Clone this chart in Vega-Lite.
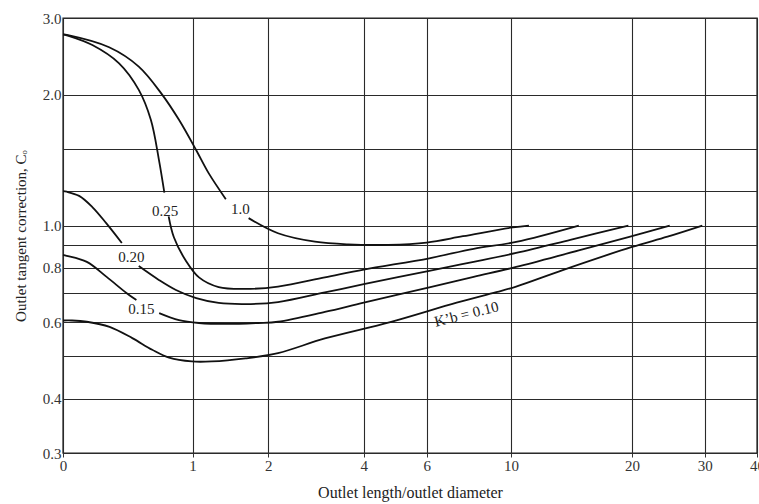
{
  "$schema": "https://vega.github.io/schema/vega-lite/v6.json",
  "width": 694,
  "height": 435,
  "autosize": "none",
  "padding": {"left": 63, "top": 18, "right": 2, "bottom": 51},
  "background": "white",
  "config": {
    "view": {"stroke": "#222", "strokeWidth": 1.4},
    "font": "Liberation Serif"
  },
  "datasets": {
    "curves": [
      {"Kb": "1.0", "seg": "1.0a", "x": 0, "C": 2.75},
      {"Kb": "1.0", "seg": "1.0a", "x": 0.027, "C": 2.74},
      {"Kb": "1.0", "seg": "1.0a", "x": 0.28, "C": 2.57},
      {"Kb": "1.0", "seg": "1.0a", "x": 0.5, "C": 2.32},
      {"Kb": "1.0", "seg": "1.0a", "x": 0.7, "C": 2.0},
      {"Kb": "1.0", "seg": "1.0a", "x": 0.86, "C": 1.75},
      {"Kb": "1.0", "seg": "1.0a", "x": 1.04, "C": 1.49},
      {"Kb": "1.0", "seg": "1.0a", "x": 1.18, "C": 1.32},
      {"Kb": "1.0", "seg": "1.0a", "x": 1.39, "C": 1.15},
      {"Kb": "1.0", "seg": "1.0b", "x": 1.7, "C": 1.04},
      {"Kb": "1.0", "seg": "1.0b", "x": 2.16, "C": 0.96},
      {"Kb": "1.0", "seg": "1.0b", "x": 2.85, "C": 0.918},
      {"Kb": "1.0", "seg": "1.0b", "x": 3.6, "C": 0.905},
      {"Kb": "1.0", "seg": "1.0b", "x": 4.7, "C": 0.903},
      {"Kb": "1.0", "seg": "1.0b", "x": 6.0, "C": 0.914},
      {"Kb": "1.0", "seg": "1.0b", "x": 7.5, "C": 0.945},
      {"Kb": "1.0", "seg": "1.0b", "x": 10.1, "C": 0.99},
      {"Kb": "1.0", "seg": "1.0b", "x": 11.1, "C": 1.0},

      {"Kb": "0.25", "seg": "0.25a", "x": 0, "C": 2.75},
      {"Kb": "0.25", "seg": "0.25a", "x": 0.03, "C": 2.73},
      {"Kb": "0.25", "seg": "0.25a", "x": 0.17, "C": 2.6},
      {"Kb": "0.25", "seg": "0.25a", "x": 0.35, "C": 2.36},
      {"Kb": "0.25", "seg": "0.25a", "x": 0.5, "C": 2.05},
      {"Kb": "0.25", "seg": "0.25a", "x": 0.6, "C": 1.75},
      {"Kb": "0.25", "seg": "0.25a", "x": 0.67, "C": 1.42},
      {"Kb": "0.25", "seg": "0.25a", "x": 0.72, "C": 1.19},
      {"Kb": "0.25", "seg": "0.25b", "x": 0.76, "C": 1.05},
      {"Kb": "0.25", "seg": "0.25b", "x": 0.81, "C": 0.94},
      {"Kb": "0.25", "seg": "0.25b", "x": 0.93, "C": 0.83},
      {"Kb": "0.25", "seg": "0.25b", "x": 1.07, "C": 0.76},
      {"Kb": "0.25", "seg": "0.25b", "x": 1.3, "C": 0.722},
      {"Kb": "0.25", "seg": "0.25b", "x": 1.65, "C": 0.715},
      {"Kb": "0.25", "seg": "0.25b", "x": 2.16, "C": 0.724},
      {"Kb": "0.25", "seg": "0.25b", "x": 3.06, "C": 0.76},
      {"Kb": "0.25", "seg": "0.25b", "x": 4.0, "C": 0.792},
      {"Kb": "0.25", "seg": "0.25b", "x": 6.1, "C": 0.841},
      {"Kb": "0.25", "seg": "0.25b", "x": 8.0, "C": 0.884},
      {"Kb": "0.25", "seg": "0.25b", "x": 10.3, "C": 0.917},
      {"Kb": "0.25", "seg": "0.25b", "x": 14.8, "C": 1.0},

      {"Kb": "0.20", "seg": "0.20a", "x": 0, "C": 1.2},
      {"Kb": "0.20", "seg": "0.20a", "x": 0.02, "C": 1.196},
      {"Kb": "0.20", "seg": "0.20a", "x": 0.09, "C": 1.17},
      {"Kb": "0.20", "seg": "0.20a", "x": 0.17, "C": 1.103},
      {"Kb": "0.20", "seg": "0.20a", "x": 0.26, "C": 1.013},
      {"Kb": "0.20", "seg": "0.20a", "x": 0.37, "C": 0.912},
      {"Kb": "0.20", "seg": "0.20b", "x": 0.5, "C": 0.807},
      {"Kb": "0.20", "seg": "0.20b", "x": 0.67, "C": 0.75},
      {"Kb": "0.20", "seg": "0.20b", "x": 0.83, "C": 0.711},
      {"Kb": "0.20", "seg": "0.20b", "x": 1.04, "C": 0.681},
      {"Kb": "0.20", "seg": "0.20b", "x": 1.3, "C": 0.664},
      {"Kb": "0.20", "seg": "0.20b", "x": 1.65, "C": 0.66},
      {"Kb": "0.20", "seg": "0.20b", "x": 2.16, "C": 0.667},
      {"Kb": "0.20", "seg": "0.20b", "x": 3.06, "C": 0.702},
      {"Kb": "0.20", "seg": "0.20b", "x": 4.0, "C": 0.733},
      {"Kb": "0.20", "seg": "0.20b", "x": 6.1, "C": 0.787},
      {"Kb": "0.20", "seg": "0.20b", "x": 8.0, "C": 0.825},
      {"Kb": "0.20", "seg": "0.20b", "x": 10.3, "C": 0.865},
      {"Kb": "0.20", "seg": "0.20b", "x": 14.1, "C": 0.927},
      {"Kb": "0.20", "seg": "0.20b", "x": 19.6, "C": 1.0},

      {"Kb": "0.15", "seg": "0.15a", "x": 0, "C": 0.856},
      {"Kb": "0.15", "seg": "0.15a", "x": 0.02, "C": 0.852},
      {"Kb": "0.15", "seg": "0.15a", "x": 0.136, "C": 0.825},
      {"Kb": "0.15", "seg": "0.15a", "x": 0.263, "C": 0.762},
      {"Kb": "0.15", "seg": "0.15a", "x": 0.404, "C": 0.7},
      {"Kb": "0.15", "seg": "0.15a", "x": 0.481, "C": 0.674},
      {"Kb": "0.15", "seg": "0.15b", "x": 0.673, "C": 0.629},
      {"Kb": "0.15", "seg": "0.15b", "x": 0.86, "C": 0.606},
      {"Kb": "0.15", "seg": "0.15b", "x": 1.07, "C": 0.597},
      {"Kb": "0.15", "seg": "0.15b", "x": 1.39, "C": 0.594},
      {"Kb": "0.15", "seg": "0.15b", "x": 1.84, "C": 0.597},
      {"Kb": "0.15", "seg": "0.15b", "x": 2.16, "C": 0.601},
      {"Kb": "0.15", "seg": "0.15b", "x": 3.06, "C": 0.633},
      {"Kb": "0.15", "seg": "0.15b", "x": 4.0, "C": 0.665},
      {"Kb": "0.15", "seg": "0.15b", "x": 6.1, "C": 0.721},
      {"Kb": "0.15", "seg": "0.15b", "x": 8.0, "C": 0.762},
      {"Kb": "0.15", "seg": "0.15b", "x": 10.3, "C": 0.803},
      {"Kb": "0.15", "seg": "0.15b", "x": 14.8, "C": 0.877},
      {"Kb": "0.15", "seg": "0.15b", "x": 19.6, "C": 0.94},
      {"Kb": "0.15", "seg": "0.15b", "x": 24.7, "C": 1.0},

      {"Kb": "0.10", "seg": "0.10a", "x": 0, "C": 0.605},
      {"Kb": "0.10", "seg": "0.10a", "x": 0.05, "C": 0.605},
      {"Kb": "0.10", "seg": "0.10a", "x": 0.136, "C": 0.601},
      {"Kb": "0.10", "seg": "0.10a", "x": 0.283, "C": 0.585},
      {"Kb": "0.10", "seg": "0.10a", "x": 0.449, "C": 0.551},
      {"Kb": "0.10", "seg": "0.10a", "x": 0.612, "C": 0.518},
      {"Kb": "0.10", "seg": "0.10a", "x": 0.764, "C": 0.497},
      {"Kb": "0.10", "seg": "0.10a", "x": 0.993, "C": 0.487},
      {"Kb": "0.10", "seg": "0.10a", "x": 1.216, "C": 0.487},
      {"Kb": "0.10", "seg": "0.10a", "x": 1.655, "C": 0.495},
      {"Kb": "0.10", "seg": "0.10a", "x": 2.16, "C": 0.509},
      {"Kb": "0.10", "seg": "0.10a", "x": 3.06, "C": 0.55},
      {"Kb": "0.10", "seg": "0.10a", "x": 4.76, "C": 0.6},
      {"Kb": "0.10", "seg": "0.10a", "x": 7.22, "C": 0.665},
      {"Kb": "0.10", "seg": "0.10a", "x": 9.16, "C": 0.703},
      {"Kb": "0.10", "seg": "0.10a", "x": 10.3, "C": 0.724},
      {"Kb": "0.10", "seg": "0.10a", "x": 13.5, "C": 0.79},
      {"Kb": "0.10", "seg": "0.10a", "x": 20.0, "C": 0.893},
      {"Kb": "0.10", "seg": "0.10a", "x": 24.4, "C": 0.943},
      {"Kb": "0.10", "seg": "0.10a", "x": 29.6, "C": 1.0}
    ],
    "labels": [
      {"label": "1.0", "x": 1.585, "C": 1.092},
      {"label": "0.25", "x": 0.727, "C": 1.08},
      {"label": "0.20", "x": 0.442, "C": 0.847},
      {"label": "0.15", "x": 0.521, "C": 0.643}
    ],
    "klabel": [
      {"label": "K’b = 0.10", "x": 7.66, "C": 0.626}
    ],
    "minor": [
      {"x": 3}, {"x": 5}, {"x": 7}, {"x": 8}, {"x": 9}, {"x": 15}
    ]
  },
  "encoding": {
    "x": {
      "field": "x",
      "type": "quantitative",
      "scale": {"type": "symlog", "constant": 1, "domain": [0, 40], "nice": false, "zero": false},
      "axis": {
        "title": "Outlet length/outlet diameter",
        "values": [0, 1, 2, 4, 6, 10, 20, 30, 40],
        "format": "d",
        "grid": true,
        "gridColor": "#2a2a2a",
        "gridWidth": 1.1,
        "gridOpacity": 1,
        "domain": false,
        "tickSize": 4,
        "tickColor": "#333",
        "labelFlush": false,
        "labelFont": "Liberation Serif",
        "labelFontSize": 15,
        "labelColor": "#333",
        "labelPadding": 1,
        "titleFont": "Liberation Serif",
        "titleFontSize": 16,
        "titleFontWeight": "normal",
        "titleColor": "#222",
        "titlePadding": 11
      }
    },
    "y": {
      "field": "C",
      "type": "quantitative",
      "scale": {"type": "log", "domain": [0.3, 3], "nice": false},
      "axis": {
        "title": "Outlet tangent correction, Cₒ",
        "values": [0.3, 0.4, 0.5, 0.6, 0.7, 0.8, 0.9, 1, 1.2, 1.5, 2, 3],
        "labelExpr": "indexof([0.3, 0.4, 0.6, 0.8, 1, 2, 3], datum.value) >= 0 ? format(datum.value, '.1f') : ''",
        "grid": true,
        "gridColor": "#2a2a2a",
        "gridWidth": 1.1,
        "gridOpacity": 1,
        "domain": false,
        "tickSize": 0,
        "labelFont": "Liberation Serif",
        "labelFontSize": 15,
        "labelColor": "#333",
        "labelPadding": 2,
        "titleFont": "Liberation Serif",
        "titleFontSize": 15,
        "titleFontWeight": "normal",
        "titleColor": "#222",
        "titlePadding": 14
      }
    }
  },
  "layer": [
    {
      "data": {"name": "curves"},
      "mark": {"type": "line", "interpolate": "catmull-rom", "color": "#111", "strokeWidth": 1.8},
      "encoding": {
        "detail": {"field": "seg", "type": "nominal"}
      }
    },
    {
      "data": {"name": "minor"},
      "mark": {"type": "rule", "color": "#333", "strokeWidth": 1},
      "encoding": {
        "y": {"datum": 0.3, "type": "quantitative"},
        "y2": {"datum": 0.31}
      }
    },
    {
      "data": {"name": "labels"},
      "mark": {"type": "text", "font": "Liberation Serif", "fontSize": 15, "color": "#222"},
      "encoding": {
        "text": {"field": "label", "type": "nominal"}
      }
    },
    {
      "data": {"name": "klabel"},
      "mark": {"type": "text", "font": "Liberation Serif", "fontSize": 15, "color": "#222", "angle": 346},
      "encoding": {
        "text": {"field": "label", "type": "nominal"}
      }
    }
  ]
}
